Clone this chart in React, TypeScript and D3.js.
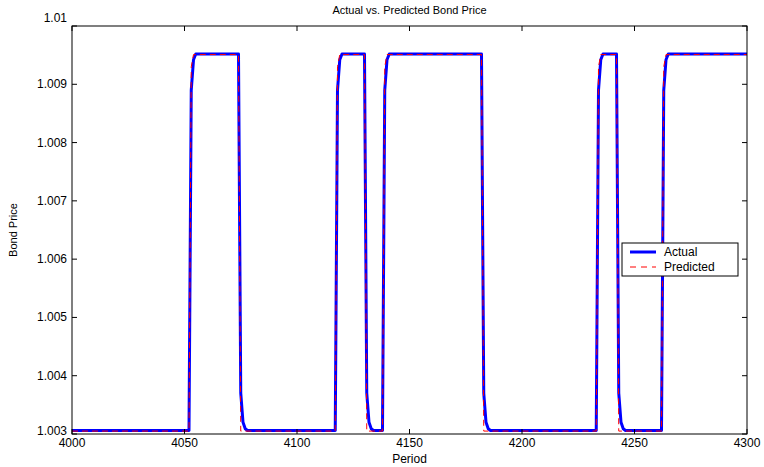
import * as d3 from 'd3';

// periodos y precios en los puntos de quiebre (tramos planos entre ellos)
const actualPeriods = [4000, 4052, 4053, 4054, 4055, 4074, 4075, 4076, 4077, 4078, 4117, 4118, 4119, 4120, 4130, 4131, 4132, 4133, 4134, 4138, 4139, 4140, 4141, 4182, 4183, 4184, 4185, 4186, 4233, 4234, 4235, 4236, 4242, 4243, 4244, 4245, 4246, 4262, 4263, 4264, 4265, 4300];
const actualPrices = [1.00306, 1.00306, 1.0089, 1.00942, 1.00952, 1.00952, 1.0037, 1.0032, 1.00309, 1.00306, 1.00306, 1.0089, 1.00942, 1.00952, 1.00952, 1.0037, 1.0032, 1.00309, 1.00306, 1.00306, 1.0089, 1.00942, 1.00952, 1.00952, 1.0037, 1.0032, 1.00309, 1.00306, 1.00306, 1.0089, 1.00942, 1.00952, 1.00952, 1.0037, 1.0032, 1.00309, 1.00306, 1.00306, 1.0089, 1.00942, 1.00952, 1.00952];

const predPeriods = [4000, 4052, 4053, 4054, 4074, 4075, 4117, 4118, 4119, 4130, 4131, 4138, 4139, 4140, 4182, 4183, 4233, 4234, 4235, 4242, 4243, 4262, 4263, 4264, 4300];
const predPrices = [1.00305, 1.00305, 1.0093, 1.00951, 1.00951, 1.00305, 1.00305, 1.0093, 1.00951, 1.00951, 1.00305, 1.00305, 1.0093, 1.00951, 1.00951, 1.00305, 1.00305, 1.0093, 1.00951, 1.00951, 1.00305, 1.00305, 1.0093, 1.00951, 1.00951];

const xTicks = [4000, 4050, 4100, 4150, 4200, 4250, 4300];
const yTicks = [1.003, 1.004, 1.005, 1.006, 1.007, 1.008, 1.009, 1.01];
const yTickLabels = ['1.003', '1.004', '1.005', '1.006', '1.007', '1.008', '1.009', '1.01'];
const seriesNames = ['Actual', 'Predicted'];

const W = 764, H = 467;
const left = 72, right = 747, top = 26, bottom = 434;
const font = 'Liberation Sans, Arial, Helvetica, sans-serif';

export default function App() {
  const x = d3.scaleLinear().domain([4000, 4300]).range([left, right]);
  const y = d3.scaleLinear().domain([1.003, 1.01]).range([bottom, top]);

  const line = d3.line<[number, number]>().x(d => x(d[0])).y(d => y(d[1]));
  const actual = actualPeriods.map((p, i) => [p, actualPrices[i]] as [number, number]);
  const pred = predPeriods.map((p, i) => [p, predPrices[i]] as [number, number]);

  const tk = 5;
  // leyenda
  const lx = 622, ly = 243, lw = 116, lh = 33;

  return (
    <svg width={W} height={H} style={{ position: 'absolute', left: 0, top: 0, background: '#fff' }} fontFamily={font}>
      <rect x={0} y={0} width={W} height={H} fill="#fff" />
      <defs>
        <clipPath id="plot">
          <rect x={left} y={top - 2} width={right - left} height={bottom - top + 2} />
        </clipPath>
      </defs>

      <g clipPath="url(#plot)">
        <path d={line(actual) || ''} fill="none" stroke="#0000ff" strokeWidth={3} strokeLinejoin="round" />
        <path d={line(pred) || ''} fill="none" stroke="#ff0000" strokeWidth={1} strokeDasharray="6,4" />
      </g>

      {/* ejes con caja */}
      <rect x={left} y={top} width={right - left} height={bottom - top} fill="none" stroke="#000" strokeWidth={1} />
      {xTicks.map(t => (
        <g key={'x' + t}>
          <line x1={x(t)} x2={x(t)} y1={bottom} y2={bottom - tk} stroke="#000" />
          <line x1={x(t)} x2={x(t)} y1={top} y2={top + tk} stroke="#000" />
          <text x={x(t)} y={bottom + 13} fontSize={12} textAnchor="middle">{t}</text>
        </g>
      ))}
      {yTicks.map((t, i) => (
        <g key={'y' + t}>
          <line x1={left} x2={left + tk} y1={y(t)} y2={y(t)} stroke="#000" />
          <line x1={right} x2={right - tk} y1={y(t)} y2={y(t)} stroke="#000" />
          <text x={left - 5} y={i === 0 ? y(t) + 1 : i === yTicks.length - 1 ? y(t) - 4 : y(t) + 4} fontSize={12} textAnchor="end">{yTickLabels[i]}</text>
        </g>
      ))}

      <text x={(left + right) / 2} y={14} fontSize={11} textAnchor="middle">Actual vs. Predicted Bond Price</text>
      <text x={(left + right) / 2} y={463} fontSize={12} textAnchor="middle">Period</text>
      <text transform={`translate(17,${(top + bottom) / 2}) rotate(-90)`} fontSize={11} textAnchor="middle">Bond Price</text>

      <g>
        <rect x={lx} y={ly} width={lw} height={lh} fill="#fff" stroke="#000" />
        <line x1={lx + 8} x2={lx + 34} y1={ly + 9} y2={ly + 9} stroke="#0000ff" strokeWidth={3} />
        <text x={lx + 42} y={ly + 13} fontSize={12}>{seriesNames[0]}</text>
        <line x1={lx + 8} x2={lx + 34} y1={ly + 24} y2={ly + 24} stroke="#ff0000" strokeWidth={1} strokeDasharray="6,5" />
        <text x={lx + 42} y={ly + 28} fontSize={12}>{seriesNames[1]}</text>
      </g>
    </svg>
  );
}
